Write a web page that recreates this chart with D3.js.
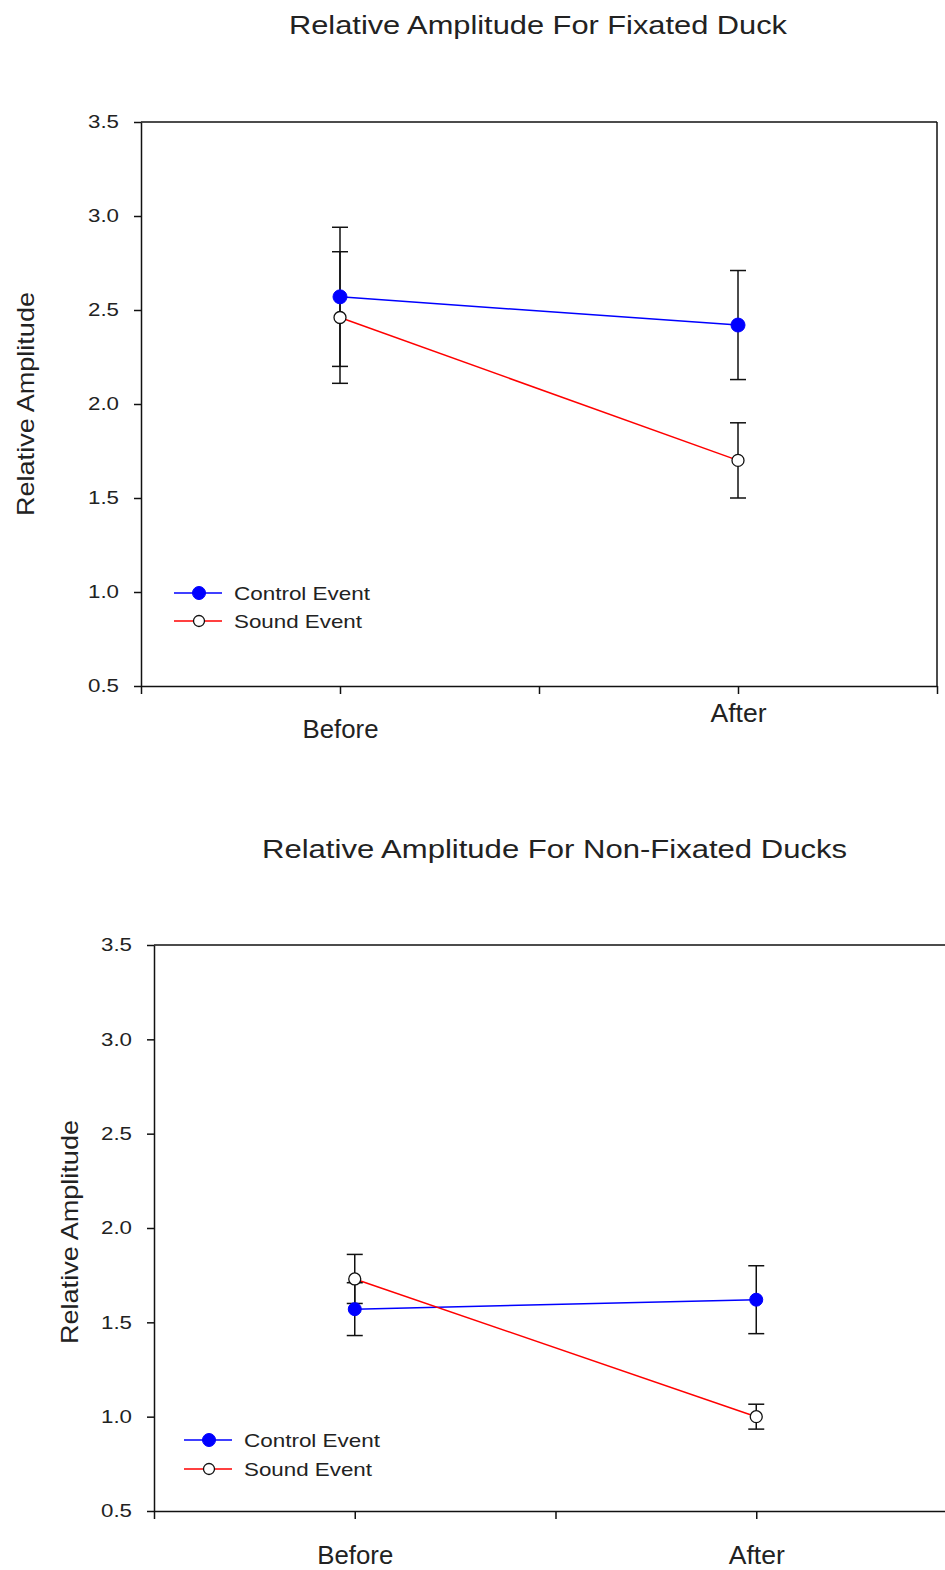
<!DOCTYPE html>
<html>
<head>
<meta charset="utf-8">
<script src="https://cdn.jsdelivr.net/npm/d3@7"></script>
<style>
html,body{margin:0;padding:0;background:#fff;}
svg{display:block;}
text{font-family:"Liberation Sans",Arial,sans-serif;fill:#222;}
</style>
</head>
<body>
<svg id="chart" width="945" height="1570"></svg>
<script>
// ---- data ----
const categories = ["Before", "After"];
const seriesNames = ["Control Event", "Sound Event"];
const yTicks = [0.5, 1.0, 1.5, 2.0, 2.5, 3.0, 3.5];

const fixatedControl = [2.57, 2.42];
const fixatedControlErr = [0.37, 0.29];
const fixatedSound = [2.46, 1.70];
const fixatedSoundErr = [0.35, 0.20];

const nonFixatedControl = [1.57, 1.62];
const nonFixatedControlErr = [0.14, 0.18];
const nonFixatedSound = [1.73, 1.00];
const nonFixatedSoundErr = [0.13, 0.066];

const titles = ["Relative Amplitude For Fixated Duck", "Relative Amplitude For Non-Fixated Ducks"];
const yLabel = "Relative Amplitude";

const svg = d3.select("#chart");

function drawChart(cfg) {
  const g = svg.append("g");
  const x = d3.scaleLinear().domain([0, 4]).range([cfg.left, cfg.right]);
  const y = d3.scaleLinear().domain([0.5, 3.5]).range([cfg.bottom, cfg.top]);
  const xi = i => x(i * 2 + 1);

  // title
  g.append("text").attr("x", cfg.titleX).attr("y", cfg.titleY)
    .attr("font-size", 26).attr("textLength", cfg.titleLen).attr("lengthAdjust", "spacingAndGlyphs")
    .attr("fill", "#2a2a2a")
    .text(cfg.title);

  // y label
  g.append("text")
    .attr("transform", `translate(${cfg.yLabelX},${cfg.yLabelY}) rotate(-90)`)
    .attr("text-anchor", "middle").attr("font-size", 24)
    .attr("textLength", 224).attr("lengthAdjust", "spacingAndGlyphs")
    .attr("fill", "#2a2a2a")
    .text(yLabel);

  // frame (top & right)
  g.append("line").attr("x1", x(0)).attr("x2", x(4)).attr("y1", y(3.5)).attr("y2", y(3.5))
    .attr("stroke", "#111").attr("stroke-width", 1.5);
  g.append("line").attr("x1", x(4)).attr("x2", x(4)).attr("y1", y(3.5)).attr("y2", y(0.5))
    .attr("stroke", "#111").attr("stroke-width", 1.5);

  // y axis
  const ya = g.append("g").attr("transform", `translate(${x(0)},0)`)
    .call(d3.axisLeft(y).tickValues(yTicks).tickFormat(d3.format(".1f")).tickSize(7).tickPadding(15).tickSizeOuter(0));
  ya.select(".domain").attr("stroke", "#111").attr("stroke-width", 1.5);
  ya.selectAll(".tick line").attr("stroke", "#111").attr("stroke-width", 1.5);
  ya.selectAll(".tick text").attr("font-size", 18).attr("fill", "#333").attr("font-family", null)
    .attr("textLength", 31).attr("lengthAdjust", "spacingAndGlyphs");

  // x axis
  const xa = g.append("g").attr("transform", `translate(0,${y(0.5)})`)
    .call(d3.axisBottom(x).tickValues([0, 1, 2, 3, 4])
      .tickFormat(d => (d % 2 === 1 ? categories[(d - 1) / 2] : ""))
      .tickSize(8).tickSizeOuter(0));
  xa.select(".domain").attr("stroke", "#111").attr("stroke-width", 1.5);
  xa.selectAll(".tick line").attr("stroke", "#111").attr("stroke-width", 1.5);
  xa.selectAll(".tick text").attr("font-size", 25).attr("fill", "#222").attr("font-family", null)
    .attr("dy", null)
    .attr("y", d => (d === 1 ? cfg.beforeY : cfg.afterY) - y(0.5))
    .attr("textLength", d => (d === 1 ? 76 : 56)).attr("lengthAdjust", "spacingAndGlyphs");

  const series = [
    { vals: cfg.control, errs: cfg.controlErr, color: "#0000ff", fill: "#0000ff" },
    { vals: cfg.sound, errs: cfg.soundErr, color: "#ff0000", fill: "#ffffff" }
  ];
  const line = d3.line().x((d, i) => xi(i)).y(d => y(d));

  series.forEach(s => {
    g.append("path").datum(s.vals).attr("d", line)
      .attr("fill", "none").attr("stroke", s.color).attr("stroke-width", 1.5);
  });
  series.forEach(s => {
    s.vals.forEach((v, i) => {
      const cx = xi(i), e = s.errs[i];
      g.append("line").attr("x1", cx).attr("x2", cx).attr("y1", y(v + e)).attr("y2", y(v - e))
        .attr("stroke", "#111").attr("stroke-width", 1.5);
      [v + e, v - e].forEach(t => {
        g.append("line").attr("x1", cx - 8).attr("x2", cx + 8).attr("y1", y(t)).attr("y2", y(t))
          .attr("stroke", "#111").attr("stroke-width", 1.5);
      });
    });
  });
  series.forEach((s, k) => {
    g.selectAll(null).data(s.vals).enter().append("circle")
      .attr("cx", (d, i) => xi(i)).attr("cy", d => y(d))
      .attr("r", k === 0 ? cfg.rFill : 6)
      .attr("fill", s.fill).attr("stroke", k === 0 ? "#0000ff" : "#111").attr("stroke-width", k === 0 ? 1 : 1.3);
  });

  // legend
  series.forEach((s, k) => {
    const ly = cfg.legY + k * cfg.legGap;
    g.append("line").attr("x1", cfg.legX).attr("x2", cfg.legX + 48).attr("y1", ly).attr("y2", ly)
      .attr("stroke", s.color).attr("stroke-width", 1.5);
    g.append("circle").attr("cx", cfg.legX + 25).attr("cy", ly).attr("r", k === 0 ? 6.5 : 5.5)
      .attr("fill", s.fill).attr("stroke", k === 0 ? "#0000ff" : "#111").attr("stroke-width", k === 0 ? 1 : 1.3);
    g.append("text").attr("x", cfg.legX + 60).attr("y", ly + 7).attr("font-size", 19)
      .attr("textLength", k === 0 ? 136 : 128).attr("lengthAdjust", "spacingAndGlyphs")
      .attr("fill", "#2a2a2a")
      .text(seriesNames[k]);
  });
}

drawChart({
  left: 141, right: 937, top: 122, bottom: 686,
  control: fixatedControl, controlErr: fixatedControlErr,
  sound: fixatedSound, soundErr: fixatedSoundErr,
  title: titles[0], titleX: 289, titleY: 34, titleLen: 498,
  yLabelX: 34, yLabelY: 404,
  beforeY: 738, afterY: 722,
  legX: 174, legY: 593, legGap: 28, rFill: 7
});

drawChart({
  left: 154, right: 957, top: 945, bottom: 1511,
  control: nonFixatedControl, controlErr: nonFixatedControlErr,
  sound: nonFixatedSound, soundErr: nonFixatedSoundErr,
  title: titles[1], titleX: 262, titleY: 858, titleLen: 585,
  yLabelX: 78, yLabelY: 1232,
  beforeY: 1564, afterY: 1564,
  legX: 184, legY: 1440, legGap: 29, rFill: 6.5
});
</script>
</body>
</html>
